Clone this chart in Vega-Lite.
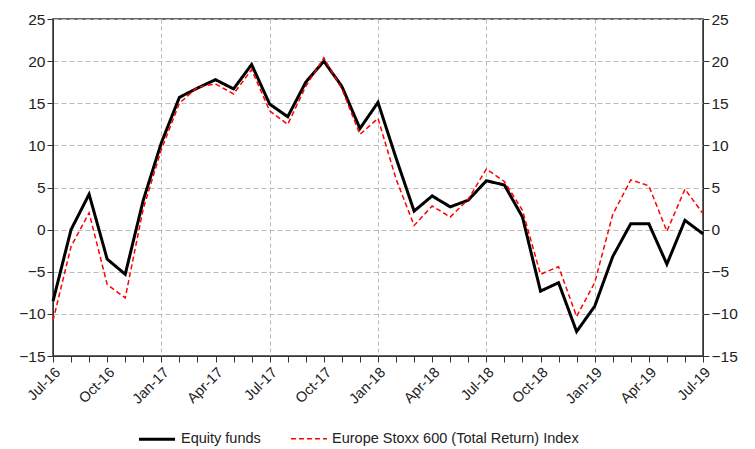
{
  "$schema": "https://vega.github.io/schema/vega-lite/v6.json",
  "width": 650,
  "height": 337,
  "autosize": "none",
  "padding": {"left": 53, "top": 19, "right": 52, "bottom": 93},
  "background": "white",
  "config": {
    "font": "Liberation Sans",
    "view": {"stroke": "#333", "strokeWidth": 1.5},
    "axis": {"labelFont": "Liberation Sans", "labelFontSize": 14, "labelColor": "#222", "domainColor": "#333", "tickColor": "#333"},
    "legend": {"labelFont": "Liberation Sans", "labelFontSize": 14.5, "labelColor": "#222"}
  },
  "data": {"values": [
    {"month":"Jul-16","series":"Equity funds","value":-8.5},
    {"month":"Aug-16","series":"Equity funds","value":0.0},
    {"month":"Sep-16","series":"Equity funds","value":4.2},
    {"month":"Oct-16","series":"Equity funds","value":-3.5},
    {"month":"Nov-16","series":"Equity funds","value":-5.3},
    {"month":"Dec-16","series":"Equity funds","value":3.5},
    {"month":"Jan-17","series":"Equity funds","value":10.3},
    {"month":"Feb-17","series":"Equity funds","value":15.7},
    {"month":"Mar-17","series":"Equity funds","value":16.8},
    {"month":"Apr-17","series":"Equity funds","value":17.8},
    {"month":"May-17","series":"Equity funds","value":16.7},
    {"month":"Jun-17","series":"Equity funds","value":19.6},
    {"month":"Jul-17","series":"Equity funds","value":14.9},
    {"month":"Aug-17","series":"Equity funds","value":13.4},
    {"month":"Sep-17","series":"Equity funds","value":17.5},
    {"month":"Oct-17","series":"Equity funds","value":20.0},
    {"month":"Nov-17","series":"Equity funds","value":17.0},
    {"month":"Dec-17","series":"Equity funds","value":12.0},
    {"month":"Jan-18","series":"Equity funds","value":15.1},
    {"month":"Feb-18","series":"Equity funds","value":8.5},
    {"month":"Mar-18","series":"Equity funds","value":2.2},
    {"month":"Apr-18","series":"Equity funds","value":4.0},
    {"month":"May-18","series":"Equity funds","value":2.7},
    {"month":"Jun-18","series":"Equity funds","value":3.5},
    {"month":"Jul-18","series":"Equity funds","value":5.8},
    {"month":"Aug-18","series":"Equity funds","value":5.3},
    {"month":"Sep-18","series":"Equity funds","value":1.5},
    {"month":"Oct-18","series":"Equity funds","value":-7.3},
    {"month":"Nov-18","series":"Equity funds","value":-6.3},
    {"month":"Dec-18","series":"Equity funds","value":-12.1},
    {"month":"Jan-19","series":"Equity funds","value":-9.1},
    {"month":"Feb-19","series":"Equity funds","value":-3.2},
    {"month":"Mar-19","series":"Equity funds","value":0.7},
    {"month":"Apr-19","series":"Equity funds","value":0.7},
    {"month":"May-19","series":"Equity funds","value":-4.1},
    {"month":"Jun-19","series":"Equity funds","value":1.1},
    {"month":"Jul-19","series":"Equity funds","value":-0.5},
    {"month":"Jul-16","series":"Europe Stoxx 600 (Total Return) Index","value":-10.8},
    {"month":"Aug-16","series":"Europe Stoxx 600 (Total Return) Index","value":-2.0},
    {"month":"Sep-16","series":"Europe Stoxx 600 (Total Return) Index","value":2.0},
    {"month":"Oct-16","series":"Europe Stoxx 600 (Total Return) Index","value":-6.5},
    {"month":"Nov-16","series":"Europe Stoxx 600 (Total Return) Index","value":-8.1},
    {"month":"Dec-16","series":"Europe Stoxx 600 (Total Return) Index","value":2.5},
    {"month":"Jan-17","series":"Europe Stoxx 600 (Total Return) Index","value":9.5},
    {"month":"Feb-17","series":"Europe Stoxx 600 (Total Return) Index","value":15.0},
    {"month":"Mar-17","series":"Europe Stoxx 600 (Total Return) Index","value":16.9},
    {"month":"Apr-17","series":"Europe Stoxx 600 (Total Return) Index","value":17.3},
    {"month":"May-17","series":"Europe Stoxx 600 (Total Return) Index","value":16.1},
    {"month":"Jun-17","series":"Europe Stoxx 600 (Total Return) Index","value":19.0},
    {"month":"Jul-17","series":"Europe Stoxx 600 (Total Return) Index","value":14.1},
    {"month":"Aug-17","series":"Europe Stoxx 600 (Total Return) Index","value":12.5},
    {"month":"Sep-17","series":"Europe Stoxx 600 (Total Return) Index","value":17.0},
    {"month":"Oct-17","series":"Europe Stoxx 600 (Total Return) Index","value":20.4},
    {"month":"Nov-17","series":"Europe Stoxx 600 (Total Return) Index","value":16.7},
    {"month":"Dec-17","series":"Europe Stoxx 600 (Total Return) Index","value":11.3},
    {"month":"Jan-18","series":"Europe Stoxx 600 (Total Return) Index","value":13.2},
    {"month":"Feb-18","series":"Europe Stoxx 600 (Total Return) Index","value":6.0},
    {"month":"Mar-18","series":"Europe Stoxx 600 (Total Return) Index","value":0.5},
    {"month":"Apr-18","series":"Europe Stoxx 600 (Total Return) Index","value":2.8},
    {"month":"May-18","series":"Europe Stoxx 600 (Total Return) Index","value":1.5},
    {"month":"Jun-18","series":"Europe Stoxx 600 (Total Return) Index","value":3.6},
    {"month":"Jul-18","series":"Europe Stoxx 600 (Total Return) Index","value":7.2},
    {"month":"Aug-18","series":"Europe Stoxx 600 (Total Return) Index","value":5.7},
    {"month":"Sep-18","series":"Europe Stoxx 600 (Total Return) Index","value":2.3},
    {"month":"Oct-18","series":"Europe Stoxx 600 (Total Return) Index","value":-5.3},
    {"month":"Nov-18","series":"Europe Stoxx 600 (Total Return) Index","value":-4.4},
    {"month":"Dec-18","series":"Europe Stoxx 600 (Total Return) Index","value":-10.3},
    {"month":"Jan-19","series":"Europe Stoxx 600 (Total Return) Index","value":-6.3},
    {"month":"Feb-19","series":"Europe Stoxx 600 (Total Return) Index","value":1.8},
    {"month":"Mar-19","series":"Europe Stoxx 600 (Total Return) Index","value":5.9},
    {"month":"Apr-19","series":"Europe Stoxx 600 (Total Return) Index","value":5.2},
    {"month":"May-19","series":"Europe Stoxx 600 (Total Return) Index","value":-0.2},
    {"month":"Jun-19","series":"Europe Stoxx 600 (Total Return) Index","value":4.8},
    {"month":"Jul-19","series":"Europe Stoxx 600 (Total Return) Index","value":1.9}
  ]},
  "layer": [
    {
      "mark": {"type": "line", "strokeJoin": "miter"},
      "encoding": {
        "x": {
          "field": "month", "type": "ordinal", "sort": null,
          "scale": {"type": "point", "padding": 0},
          "axis": {
            "title": null,
            "labelAngle": -45,
            "labelFontSize": 14.5,
            "labelExpr": "(indexof(datum.value,'Jan')==0 || indexof(datum.value,'Apr')==0 || indexof(datum.value,'Jul')==0 || indexof(datum.value,'Oct')==0) ? datum.value : ''",
            "tickSize": 6,
            "labelPadding": 3,
            "grid": true,
            "gridDash": [4, 3],
            "gridColor": "#bbb",
            "gridOpacity": {"condition": {"test": "indexof(datum.value,'Jan')==0 || indexof(datum.value,'Jul')==0", "value": 1}, "value": 0}
          }
        },
        "y": {
          "field": "value", "type": "quantitative",
          "scale": {"domain": [-15, 25], "nice": false, "zero": false},
          "axis": {"orient": "left", "title": null, "labelFontSize": 15.5, "values": [-15,-10,-5,0,5,10,15,20,25], "tickSize": 6, "labelPadding": 2, "grid": true, "gridDash": [5, 3], "gridColor": "#bbb"}
        },
        "color": {
          "field": "series", "type": "nominal",
          "scale": {"domain": ["Equity funds", "Europe Stoxx 600 (Total Return) Index"], "range": ["#000000", "#ff0000"]},
          "legend": {"title": null, "orient": "none", "legendX": 84, "legendY": 400, "direction": "horizontal", "symbolType": "stroke", "symbolSize": 1300, "columnPadding": 26, "labelLimit": 400}
        },
        "strokeDash": {
          "field": "series", "type": "nominal",
          "scale": {"domain": ["Equity funds", "Europe Stoxx 600 (Total Return) Index"], "range": [[1, 0], [5, 3]]},
          "legend": {"title": null, "orient": "none", "legendX": 84, "legendY": 400, "direction": "horizontal", "symbolType": "stroke", "symbolSize": 1300, "columnPadding": 26, "labelLimit": 400}
        },
        "strokeWidth": {
          "field": "series", "type": "nominal",
          "scale": {"domain": ["Equity funds", "Europe Stoxx 600 (Total Return) Index"], "range": [3, 1.5]},
          "legend": {"title": null, "orient": "none", "legendX": 84, "legendY": 400, "direction": "horizontal", "symbolType": "stroke", "symbolSize": 1300, "columnPadding": 26, "labelLimit": 400}
        }
      }
    },
    {
      "mark": {"type": "line", "opacity": 0},
      "encoding": {
        "x": {"field": "month", "type": "ordinal", "sort": null},
        "y": {
          "field": "value", "type": "quantitative",
          "axis": {"orient": "right", "title": null, "labelFontSize": 15.5, "values": [-15,-10,-5,0,5,10,15,20,25], "tickSize": 6, "labelPadding": 2, "grid": false}
        },
        "detail": {"field": "series", "type": "nominal"}
      }
    }
  ],
  "resolve": {"axis": {"y": "independent"}}
}
